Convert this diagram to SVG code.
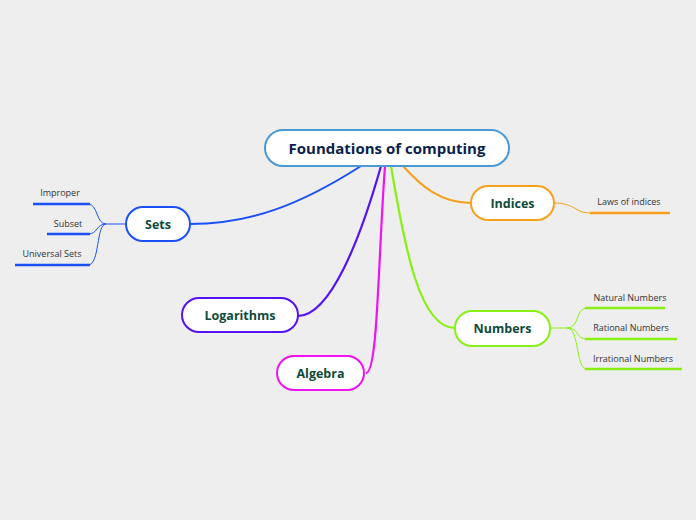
<svg xmlns="http://www.w3.org/2000/svg" width="696" height="520" viewBox="0 0 696 520">
<style>
.node{fill:#fff;stroke-width:2}
.lbl{font-family:"Open Sans","Noto Sans",sans-serif;font-weight:bold;font-size:12.5px;fill:#0e4a3a;text-anchor:middle}
.leaf{font-family:"Open Sans","Noto Sans",sans-serif;font-size:9px;fill:#333;text-anchor:middle}
.c{fill:none}
</style>
<rect width="696" height="520" fill="#eeeeee"/>
<g id="connectors">
<path class="c" d="M361,166 C300,205 250,224 190,224" stroke="#1a50f5" stroke-width="2"/>
<path class="c" d="M381,166 C360,240 330,316 298,316" stroke="#5512f2" stroke-width="2.2"/>
<path class="c" d="M385,166 C378,260 378,373 366,373" stroke="#f012f0" stroke-width="2.2"/>
<path class="c" d="M391,166 C405,250 420,328 455,328" stroke="#88f014" stroke-width="2.2"/>
<path class="c" d="M403,166 C420,185 440,203 471,203" stroke="#f7a01c" stroke-width="2"/>
<path class="c" d="M126,224 L106,224 C96,224 98,204 88,204 M106,224 C96,224 98,234 88,234 M106,224 C96,224 100,265 88,265" stroke="#1a50f5" stroke-width="1"/>
<path class="c" d="M33,204 H90 M47,234 H90 M15,265 H90" stroke="#1a50f5" stroke-width="2.5"/>
<path class="c" d="M554,203 C575,203 575,213 590,213" stroke="#f7a01c" stroke-width="1"/>
<path class="c" d="M590,213 H670" stroke="#f7a01c" stroke-width="2.5"/>
<path class="c" d="M550,328 L567,328 C580,328 575,308 587,308 M567,328 C580,328 575,339 587,339 M567,328 C580,328 575,369 587,369" stroke="#88f014" stroke-width="1"/>
<path class="c" d="M585,308 H665 M585,339 H677 M585,369 H682" stroke="#88f014" stroke-width="2.5"/>
</g>
<g id="central">
<rect class="node" x="265" y="130" width="244" height="36" rx="18" stroke="#4a98d6"/>
<text x="387" y="154" font-family="Open Sans,Noto Sans,sans-serif" font-weight="bold" font-size="15px" fill="#0b1f4b" text-anchor="middle">Foundations of computing</text>
</g>
<g id="sets">
<rect class="node" x="126" y="207" width="64" height="34" rx="17" stroke="#1a50f5"/>
<text class="lbl" x="158" y="229">Sets</text>
</g>
<g id="indices">
<rect class="node" x="471" y="186" width="83" height="34" rx="17" stroke="#f7a01c"/>
<text class="lbl" x="512.5" y="208">Indices</text>
</g>
<g id="numbers">
<rect class="node" x="455" y="311" width="95" height="35" rx="17" stroke="#88f014"/>
<text class="lbl" x="502.5" y="333">Numbers</text>
</g>
<g id="logarithms">
<rect class="node" x="182" y="298" width="116" height="34" rx="17" stroke="#5512f2"/>
<text class="lbl" x="240" y="320">Logarithms</text>
</g>
<g id="algebra">
<rect class="node" x="277" y="356" width="87" height="34" rx="17" stroke="#f012f0"/>
<text class="lbl" x="320.5" y="378">Algebra</text>
</g>
<g id="leaves">
<text class="leaf" x="60" y="196">Improper</text>
<text class="leaf" x="68" y="227">Subset</text>
<text class="leaf" x="52" y="257">Universal Sets</text>
<text class="leaf" x="629" y="205">Laws of indices</text>
<text class="leaf" x="630" y="301">Natural Numbers</text>
<text class="leaf" x="631" y="331">Rational Numbers</text>
<text class="leaf" x="633" y="362">Irrational Numbers</text>
</g>
</svg>
